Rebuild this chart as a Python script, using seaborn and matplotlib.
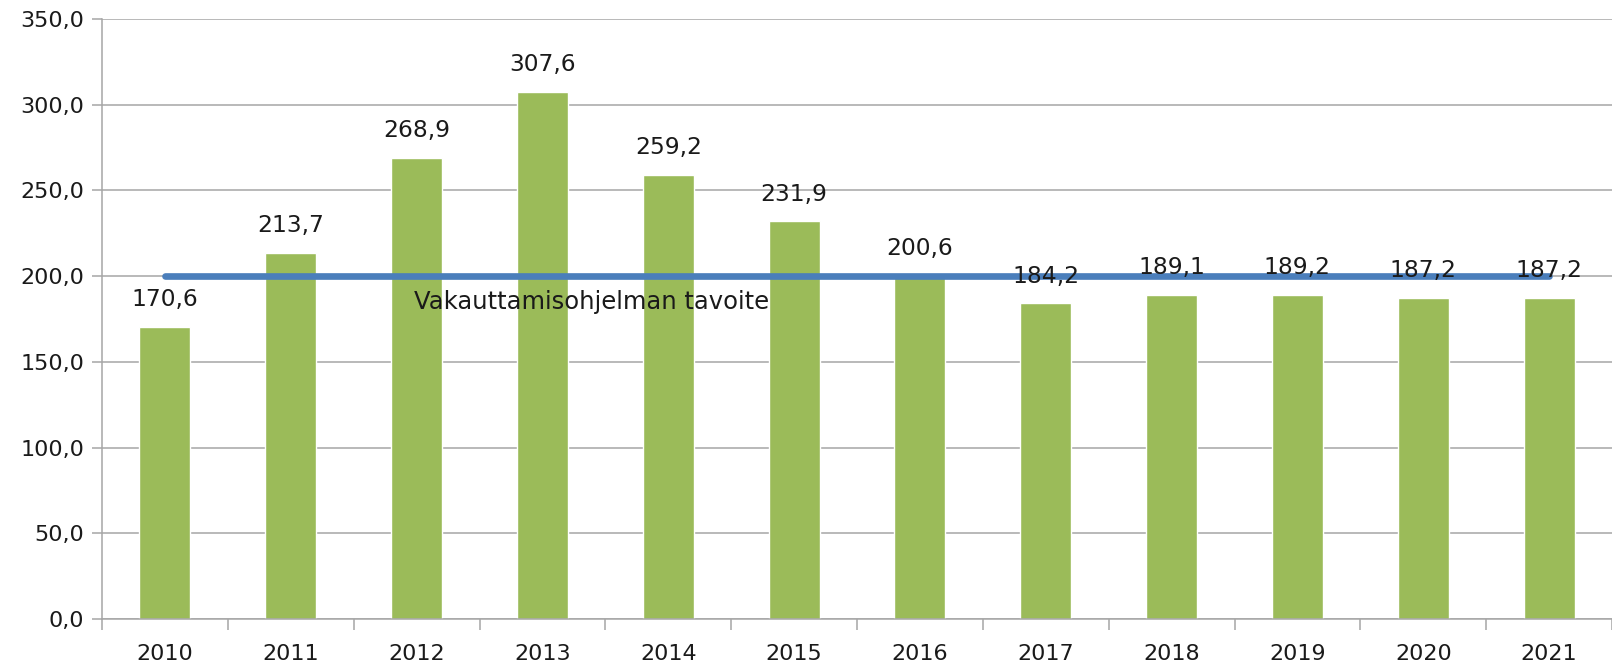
import numpy as np
import pandas as pd
import seaborn as sns
from matplotlib import pyplot as plt

# data
years = ["2010", "2011", "2012", "2013", "2014", "2015",
         "2016", "2017", "2018", "2019", "2020", "2021"]
values = [170.6, 213.7, 268.9, 307.6, 259.2, 231.9,
          200.6, 184.2, 189.1, 189.2, 187.2, 187.2]
target = [200.0, 200.0, 200.0, 200.0, 200.0, 200.0,
          200.0, 200.0, 200.0, 200.0, 200.0, 200.0]
target_label = "Vakauttamisohjelman tavoite"
yticks = [0, 50, 100, 150, 200, 250, 300, 350]

green = "#9BBB59"
blue = "#4A7EBB"
grey = "#A6A6A6"

sns.set_style("white")
plt.rcParams['font.family'] = ['DejaVu Sans']

df = pd.DataFrame({"year": years, "value": values})

fig = plt.figure(figsize=(16.12, 6.68), dpi=100)
ax = fig.add_axes([0.0633, 0.0734, 0.9367, 0.8982])

# gridlines behind bars
ax.set_axisbelow(True)
ax.yaxis.grid(True, color=grey, linewidth=1.1)
ax.xaxis.grid(False)

sns.barplot(data=df, x="year", y="value", color=green, width=0.405,
            saturation=1, ax=ax, zorder=2)

# target line through bar centres
sns.lineplot(x=np.arange(len(years)), y=target, color=blue, linewidth=4.8,
             ax=ax, zorder=3)
ax.text(1.98, 185, target_label, fontsize=17.5, color="#1a1a1a",
        ha="left", va="center", zorder=4)

# value labels
for i, v in enumerate(values):
    ax.annotate("{:.1f}".format(v).replace(".", ","), (i, v),
                xytext=(0, 19.5), textcoords="offset points",
                ha="center", va="center", fontsize=16.8, color="#1a1a1a",
                zorder=5)

ax.set_ylim(0, 350)
ax.set_xlim(-0.5, len(years) - 0.5)
ax.set_yticks(yticks)
ax.set_yticklabels(["{:.1f}".format(t).replace(".", ",") for t in yticks],
                   fontsize=16, color="#1a1a1a")
ax.tick_params(axis="y", length=7, width=1.1, color=grey, pad=6, left=True)
ax.set_xticks(np.arange(len(years)))
ax.set_xticklabels(years, fontsize=16, color="#1a1a1a")
ax.set_xticks(np.arange(-0.5, len(years)), minor=True)
ax.tick_params(axis="x", which="major", length=0, pad=18)
ax.tick_params(axis="x", which="minor", length=8, width=1.1, color=grey,
               bottom=True)
ax.set_xlabel("")
ax.set_ylabel("")

for side in ["top", "right"]:
    ax.spines[side].set_visible(False)
for side in ["left", "bottom"]:
    ax.spines[side].set_color(grey)
    ax.spines[side].set_linewidth(1.1)

fig.savefig("out.png", dpi=100)
